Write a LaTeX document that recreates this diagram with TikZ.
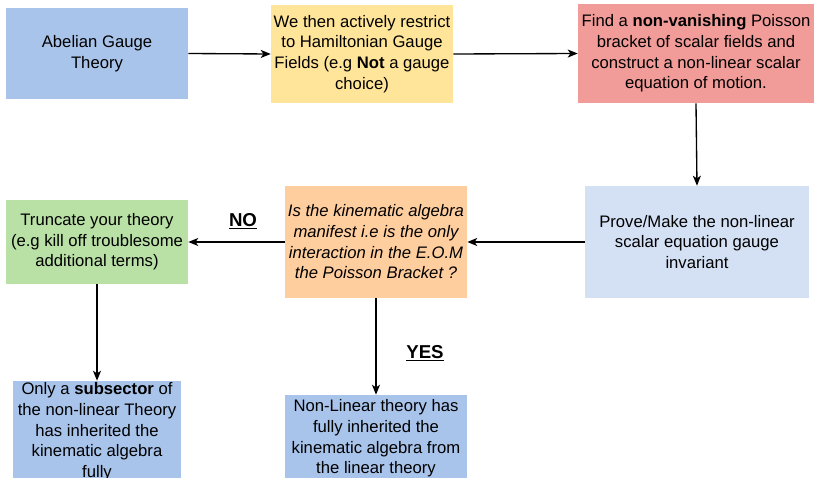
\documentclass[tikz,border=0pt]{standalone}
\usepackage{fontspec}
\setmainfont{Liberation Sans}
\usepackage{xcolor}
\usetikzlibrary{arrows.meta,positioning,calc}
\definecolor{flowBlue}{HTML}{A9C4EB}
\definecolor{flowPale}{HTML}{D4E1F5}
\definecolor{flowYellow}{HTML}{FFE599}
\definecolor{flowRed}{HTML}{F19C99}
\definecolor{flowOrange}{HTML}{FFCE9F}
\definecolor{flowGreen}{HTML}{B9E0A5}

\begin{document}
\begin{tikzpicture}[
  x=0.75pt,y=-0.75pt,
  font=\fontsize{12.5}{15.5}\selectfont,
  stage/.style={minimum width=136.5pt,inner sep=0pt,align=center},
  msg/.style={-{Stealth[length=7.5pt,width=6pt,inset=2pt]},line width=1pt},
  verdict/.style={font=\fontsize{14}{16}\selectfont\bfseries}
]
\useasboundingbox (0,0) rectangle (815,478);
\clip (0,0) rectangle (815,478);

\node[stage,fill=flowBlue,minimum height=68.25pt]   (abel)  at (97,53.5)  {Abelian Gauge\\Theory};
\node[stage,fill=flowYellow,minimum height=73.5pt]  (restr) at (362,54)   {We then actively restrict\\to Hamiltonian Gauge\\Fields (e.g \textbf{Not} a gauge\\choice)};
\node[stage,fill=flowRed,minimum width=177pt,minimum height=74.25pt] (poisson) at (696,53.5)
  {Find a \textbf{non-vanishing} Poisson\\bracket of scalar fields and\\construct a non-linear scalar\\equation of motion.};
\node[stage,fill=flowPale,minimum width=168pt,minimum height=84pt] (prove) at (697,242)
  {Prove/Make the non-linear\\scalar equation gauge\\invariant};
\node[stage,fill=flowOrange,minimum height=84pt] (manif) at (376,242)
  {\itshape Is the kinematic algebra\\\itshape manifest i.e is the only\\\itshape interaction in the E.O.M\\\itshape the Poisson Bracket ?};
\node[stage,fill=flowGreen,minimum height=63pt] (trunc) at (97,242)
  {Truncate your theory\\(e.g kill off troublesome\\additional terms)};
\node[stage,fill=flowBlue,minimum width=126pt,minimum height=76.5pt] (subsec) at (97,432)
  {Only a \textbf{subsector} of\\the non-linear Theory\\has inherited the\\kinematic algebra\\fully};
\node[stage,fill=flowBlue,minimum height=65.25pt] (result) at (376,438.5)
  {Non-Linear theory has\\fully inherited the\\kinematic algebra from\\the linear theory};

% Flow
\draw[msg] (abel.east) -- (restr.west);
\draw[msg] (restr.east) -- (poisson.west);
\draw[msg] (poisson.south) -- (prove.north);
\draw[msg] (prove.west) -- (manif.east);
\draw[msg] (manif.west) -- (trunc.east);
\draw[msg] (trunc.south) -- (subsec.north);
\draw[msg] (manif.south) -- (result.north);

% Answers
\node[verdict] (no)  at (243,221) {\underline{NO}};
\node[verdict] (yes) at (425,353) {\underline{YES}};
\end{tikzpicture}
\end{document}
